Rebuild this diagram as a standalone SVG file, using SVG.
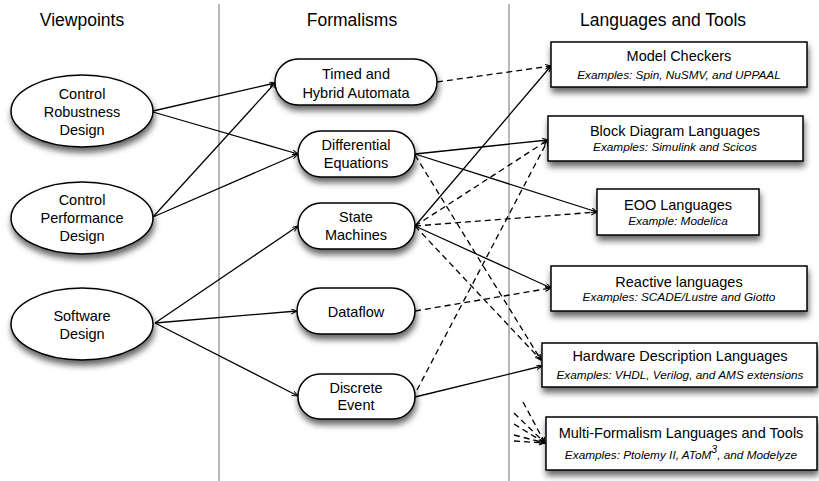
<svg xmlns="http://www.w3.org/2000/svg" width="819" height="481" viewBox="0 0 819 481">
<defs>
<filter id="sh" x="-20%" y="-30%" width="150%" height="180%">
<feDropShadow dx="1" dy="5" stdDeviation="3.2" flood-color="#000" flood-opacity="0.6"/>
</filter>
<marker id="arr" markerWidth="8" markerHeight="8" refX="6" refY="2.5" orient="auto" markerUnits="userSpaceOnUse">
<path d="M0,0 L6,2.5 L0,5" fill="none" stroke="#000" stroke-width="1"/>
</marker>
</defs>
<style>
.hdr{font-family:"Liberation Sans",Arial,sans-serif;font-size:17.5px;fill:#000;text-anchor:middle}
.t{font-family:"Liberation Sans",Arial,sans-serif;font-size:14.5px;fill:#000;text-anchor:middle}
.s{font-family:"Liberation Sans",Arial,sans-serif;font-size:11.8px;font-style:italic;fill:#000;text-anchor:middle}
.node{fill:#fff;stroke:#000;stroke-width:1.5;filter:url(#sh)}
.e{stroke:#000;stroke-width:1.3;fill:none;marker-end:url(#arr)}
.d{stroke-dasharray:6 4}
.div{stroke:#888;stroke-width:1.2}
</style>
<rect width="819" height="481" fill="#fff"/>
<g id="dividers">
<line class="div" x1="219" y1="4" x2="219" y2="481"/>
<line class="div" x1="509" y1="4" x2="509" y2="481"/>
</g>
<g id="headers">
<text class="hdr" x="82" y="26">Viewpoints</text>
<text class="hdr" x="352" y="26">Formalisms</text>
<text class="hdr" x="663" y="26">Languages and Tools</text>
</g>
<g id="connectors">
<line class="e" x1="153" y1="111" x2="275" y2="83"/>
<line class="e" x1="153" y1="112" x2="298" y2="154"/>
<line class="e" x1="153" y1="217" x2="276" y2="82"/>
<line class="e" x1="153" y1="217" x2="298" y2="154"/>
<line class="e" x1="155" y1="323" x2="298" y2="226"/>
<line class="e" x1="155" y1="323" x2="297" y2="311"/>
<line class="e" x1="155" y1="323" x2="298" y2="396"/>
<line class="e" x1="415" y1="154" x2="548" y2="140"/>
<line class="e" x1="415" y1="154" x2="597" y2="212"/>
<line class="e" x1="415" y1="226" x2="551" y2="66"/>
<line class="e" x1="415" y1="226" x2="551" y2="288"/>
<line class="e" x1="415" y1="397" x2="542" y2="366"/>
<line class="e d" x1="437" y1="82" x2="551" y2="66"/>
<line class="e d" x1="415" y1="226" x2="548" y2="140"/>
<line class="e d" x1="415" y1="226" x2="597" y2="212"/>
<line class="e d" x1="415" y1="311" x2="551" y2="288"/>
<line class="e d" x1="417" y1="390" x2="548" y2="140"/>
<line class="e d" x1="415" y1="155" x2="541" y2="360"/>
<line class="e d" x1="415" y1="226" x2="541" y2="360"/>
<line class="e d" x1="523" y1="402" x2="545" y2="443"/>
<line class="e d" x1="514" y1="413" x2="545" y2="443"/>
<line class="e d" x1="514" y1="424" x2="545" y2="443"/>
<line class="e d" x1="514" y1="435" x2="545" y2="443"/>
<line class="e d" x1="514" y1="441" x2="545" y2="443"/>
</g>
<g id="control-robustness">
<ellipse class="node" cx="82" cy="111" rx="71" ry="36"/>
<text class="t" x="82" y="99">Control</text>
<text class="t" x="82" y="117">Robustness</text>
<text class="t" x="82" y="135">Design</text>
</g>
<g id="control-performance">
<ellipse class="node" cx="82" cy="218" rx="71" ry="36"/>
<text class="t" x="82" y="205">Control</text>
<text class="t" x="82" y="223">Performance</text>
<text class="t" x="82" y="241">Design</text>
</g>
<g id="software-design">
<ellipse class="node" cx="82" cy="324" rx="71" ry="36"/>
<text class="t" x="82" y="321">Software</text>
<text class="t" x="82" y="339">Design</text>
</g>
<g id="timed-hybrid">
<rect class="node" x="275" y="59" width="162" height="46" rx="23"/>
<text class="t" x="356" y="79">Timed and</text>
<text class="t" x="356" y="97.5">Hybrid Automata</text>
</g>
<g id="differential">
<rect class="node" x="298" y="131" width="117" height="46" rx="23"/>
<text class="t" x="356" y="150">Differential</text>
<text class="t" x="356" y="168">Equations</text>
</g>
<g id="state-machines">
<rect class="node" x="298" y="203" width="117" height="46" rx="23"/>
<text class="t" x="356" y="222">State</text>
<text class="t" x="356" y="240">Machines</text>
</g>
<g id="dataflow">
<rect class="node" x="297" y="288" width="118" height="46" rx="23"/>
<text class="t" x="356" y="317">Dataflow</text>
</g>
<g id="discrete-event">
<rect class="node" x="298" y="374" width="117" height="45" rx="22"/>
<text class="t" x="356" y="393">Discrete</text>
<text class="t" x="356" y="410">Event</text>
</g>
<g id="model-checkers">
<rect class="node" x="551" y="42" width="256" height="45"/>
<text class="t" x="679" y="61">Model Checkers</text>
<text class="s" x="679" y="79">Examples: Spin, NuSMV, and UPPAAL</text>
</g>
<g id="block-diagram">
<rect class="node" x="548" y="116" width="255" height="45"/>
<text class="t" x="675" y="136">Block Diagram Languages</text>
<text class="s" x="675" y="151">Examples: Simulink and Scicos</text>
</g>
<g id="eoo">
<rect class="node" x="597" y="189" width="162" height="46"/>
<text class="t" x="678" y="210">EOO Languages</text>
<text class="s" x="678" y="225">Example: Modelica</text>
</g>
<g id="reactive">
<rect class="node" x="551" y="266" width="256" height="45"/>
<text class="t" x="679" y="287">Reactive languages</text>
<text class="s" x="679" y="301">Examples: SCADE/Lustre and Giotto</text>
</g>
<g id="hardware">
<rect class="node" x="542" y="343" width="275" height="44"/>
<text class="t" x="680" y="361">Hardware Description Languages</text>
<text class="s" x="680" y="379">Examples: VHDL, Verilog, and AMS extensions</text>
</g>
<g id="multi-formalism">
<rect class="node" x="546" y="417" width="271" height="53"/>
<text class="t" x="681" y="438">Multi-Formalism Languages and Tools</text>
<text class="s" x="681" y="459">Examples: Ptolemy II, AToM<tspan font-size="10.5" dy="-6">3</tspan><tspan dy="6">, and Modelyze</tspan></text>
</g>
</svg>
